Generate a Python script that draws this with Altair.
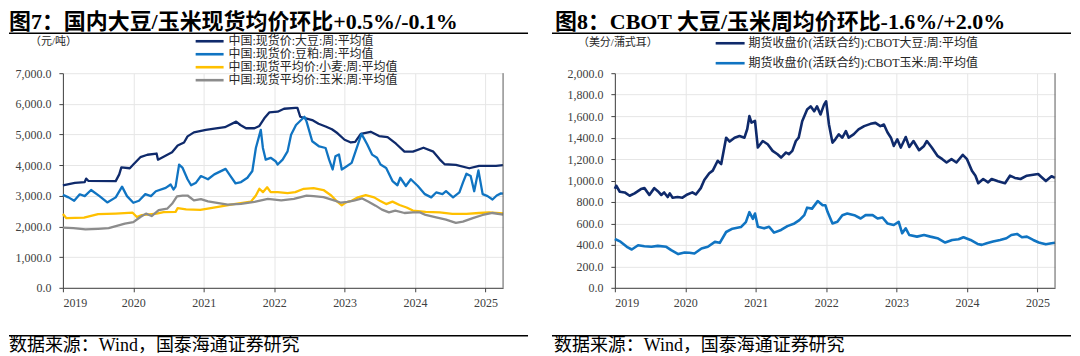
import altair as alt
import pandas as pd

# ---------------- data (decimal year, value) ----------------
cn_soybean = [(2019.00, 3345), (2019.17, 3420), (2019.31, 3450), (2019.33, 3560), (2019.36, 3490),
              (2019.75, 3480), (2019.80, 3700), (2019.83, 3930), (2019.95, 3900), (2020.00, 4020),
              (2020.10, 4260), (2020.20, 4340), (2020.33, 4380), (2020.35, 4180), (2020.45, 4300),
              (2020.55, 4420), (2020.63, 4640), (2020.72, 4740), (2020.77, 4940), (2020.86, 5070),
              (2021.03, 5150), (2021.15, 5190), (2021.30, 5240), (2021.46, 5420), (2021.52, 5310),
              (2021.60, 5205), (2021.72, 5205), (2021.79, 5280), (2021.86, 5530), (2021.93, 5720),
              (2022.05, 5745), (2022.14, 5840), (2022.30, 5870), (2022.33, 5870), (2022.37, 5580),
              (2022.45, 5530), (2022.54, 5470), (2022.63, 5350), (2022.73, 5260), (2022.82, 5170),
              (2022.90, 5040), (2023.00, 4830), (2023.09, 4740), (2023.15, 4760), (2023.23, 5020),
              (2023.37, 5090), (2023.49, 4950), (2023.61, 4915), (2023.73, 4700), (2023.85, 4440),
              (2023.97, 4440), (2024.12, 4570), (2024.26, 4440), (2024.35, 4190), (2024.42, 4030),
              (2024.58, 4010), (2024.77, 3900), (2024.91, 3980), (2025.15, 3980), (2025.25, 4000)]

cn_meal = [(2019.00, 3030), (2019.08, 2950), (2019.16, 2840), (2019.24, 3050), (2019.31, 2990),
           (2019.40, 3190), (2019.52, 2990), (2019.63, 2785), (2019.75, 2950), (2019.84, 3300),
           (2019.91, 2990), (2020.00, 2775), (2020.08, 2840), (2020.17, 3055), (2020.25, 2990),
           (2020.32, 3150), (2020.46, 3260), (2020.53, 3370), (2020.57, 3205), (2020.60, 3300),
           (2020.65, 4020), (2020.70, 3910), (2020.77, 3540), (2020.82, 3345), (2020.89, 3430),
           (2020.96, 3645), (2021.06, 3540), (2021.15, 3700), (2021.31, 3880), (2021.38, 3645),
           (2021.45, 3410), (2021.53, 3450), (2021.62, 3590), (2021.69, 3810), (2021.74, 4560),
           (2021.81, 5150), (2021.84, 4560), (2021.88, 4180), (2021.95, 4240), (2022.02, 4130),
           (2022.05, 4020), (2022.12, 4180), (2022.19, 4450), (2022.24, 4990), (2022.31, 5310),
           (2022.43, 5580), (2022.46, 5420), (2022.54, 4780), (2022.64, 4610), (2022.73, 4560),
           (2022.78, 4180), (2022.83, 3860), (2022.87, 4290), (2022.92, 4350), (2022.96, 3860),
           (2023.02, 3950), (2023.10, 4075), (2023.24, 5020), (2023.32, 4680), (2023.39, 4345),
           (2023.46, 4240), (2023.51, 4020), (2023.59, 3910), (2023.68, 3480), (2023.75, 3345),
           (2023.79, 3590), (2023.87, 3320), (2023.94, 3540), (2024.04, 3320), (2024.14, 3055),
           (2024.23, 2950), (2024.30, 3110), (2024.39, 3055), (2024.44, 3150), (2024.54, 2950),
           (2024.63, 3110), (2024.68, 3430), (2024.73, 3720), (2024.79, 3645), (2024.84, 3150),
           (2024.90, 3830), (2024.96, 3055), (2025.03, 2990), (2025.10, 2880), (2025.16, 3010),
           (2025.22, 3080), (2025.25, 3070)]

cn_wheat = [(2019.00, 2410), (2019.05, 2270), (2019.30, 2290), (2019.50, 2400), (2019.75, 2420),
            (2019.99, 2450), (2020.05, 2310), (2020.12, 2370), (2020.33, 2420), (2020.43, 2470),
            (2020.60, 2475), (2020.63, 2600), (2020.75, 2560), (2020.95, 2540), (2021.10, 2600),
            (2021.43, 2730), (2021.67, 2810), (2021.74, 3010), (2021.79, 3230), (2021.84, 3120),
            (2021.90, 3280), (2021.95, 3120), (2022.05, 3120), (2022.19, 3090), (2022.30, 3120),
            (2022.42, 3230), (2022.56, 3250), (2022.70, 3190), (2022.81, 3010), (2022.90, 2800),
            (2022.96, 2690), (2023.02, 2785), (2023.10, 2840), (2023.19, 2950), (2023.30, 3020),
            (2023.42, 2950), (2023.50, 2840), (2023.59, 2730), (2023.68, 2810), (2023.78, 2700),
            (2023.88, 2620), (2023.97, 2520), (2024.15, 2480), (2024.35, 2460), (2024.53, 2410),
            (2024.73, 2410), (2024.91, 2440), (2025.05, 2460), (2025.25, 2430)]

cn_corn = [(2019.00, 1960), (2019.15, 1945), (2019.32, 1905), (2019.50, 1925), (2019.65, 1945),
           (2019.88, 2090), (2020.00, 2140), (2020.10, 2310), (2020.18, 2420), (2020.26, 2340),
           (2020.36, 2530), (2020.48, 2580), (2020.55, 2740), (2020.62, 2980), (2020.70, 3010),
           (2020.77, 3010), (2020.86, 2850), (2020.96, 2890), (2021.06, 2820), (2021.34, 2710),
           (2021.53, 2740), (2021.72, 2800), (2021.91, 2900), (2022.10, 2850), (2022.28, 2900),
           (2022.46, 3010), (2022.56, 2990), (2022.70, 2960), (2022.85, 2850), (2022.95, 2775),
           (2023.04, 2800), (2023.13, 2840), (2023.25, 2915), (2023.34, 2810), (2023.44, 2680),
           (2023.53, 2550), (2023.63, 2460), (2023.72, 2520), (2023.85, 2440), (2023.97, 2460),
           (2024.07, 2460), (2024.15, 2375), (2024.30, 2300), (2024.44, 2225), (2024.58, 2120),
           (2024.68, 2160), (2024.82, 2270), (2024.96, 2375), (2025.10, 2440), (2025.25, 2390)]

cbot_soybean = [(2019.00, 923), (2019.02, 951), (2019.07, 895), (2019.14, 889), (2019.21, 858),
                (2019.28, 880), (2019.37, 920), (2019.42, 929), (2019.49, 865), (2019.56, 929),
                (2019.61, 900), (2019.66, 865), (2019.70, 889), (2019.75, 846), (2019.78, 880),
                (2019.82, 840), (2019.89, 846), (2019.96, 840), (2020.03, 870), (2020.10, 889),
                (2020.15, 870), (2020.22, 929), (2020.27, 1005), (2020.34, 1067), (2020.39, 1092),
                (2020.46, 1184), (2020.51, 1153), (2020.58, 1399), (2020.63, 1363), (2020.70, 1399),
                (2020.77, 1415), (2020.84, 1399), (2020.88, 1480), (2020.91, 1600), (2020.94, 1540),
                (2020.99, 1555), (2021.03, 1307), (2021.10, 1368), (2021.17, 1338), (2021.24, 1276),
                (2021.31, 1245), (2021.36, 1214), (2021.43, 1261), (2021.47, 1245), (2021.52, 1276),
                (2021.57, 1368), (2021.61, 1399), (2021.66, 1553), (2021.73, 1661), (2021.78, 1691),
                (2021.83, 1645), (2021.87, 1691), (2021.92, 1615), (2021.97, 1707), (2022.00, 1738),
                (2022.04, 1522), (2022.09, 1353), (2022.13, 1384), (2022.18, 1430), (2022.23, 1399),
                (2022.28, 1461), (2022.32, 1399), (2022.39, 1430), (2022.46, 1476), (2022.54, 1507),
                (2022.63, 1528), (2022.70, 1537), (2022.77, 1507), (2022.82, 1522), (2022.87, 1450),
                (2022.92, 1399), (2022.96, 1322), (2023.01, 1384), (2023.06, 1307), (2023.13, 1405),
                (2023.18, 1313), (2023.24, 1368), (2023.32, 1282), (2023.39, 1322), (2023.43, 1368),
                (2023.50, 1307), (2023.58, 1230), (2023.65, 1199), (2023.71, 1168), (2023.78, 1199),
                (2023.85, 1168), (2023.94, 1239), (2024.00, 1199), (2024.07, 1091), (2024.12, 1045),
                (2024.16, 975), (2024.23, 1014), (2024.30, 983), (2024.35, 1014), (2024.44, 993),
                (2024.54, 975), (2024.61, 1045), (2024.68, 1024), (2024.76, 1014), (2024.85, 1045),
                (2024.94, 1054), (2025.01, 1060), (2025.06, 1030), (2025.12, 995), (2025.20, 1040),
                (2025.25, 1025)]

cbot_corn = [(2019.00, 455), (2019.08, 430), (2019.17, 382), (2019.24, 357), (2019.33, 397),
             (2019.42, 388), (2019.52, 382), (2019.61, 391), (2019.73, 382), (2019.80, 351),
             (2019.90, 314), (2019.99, 329), (2020.06, 326), (2020.13, 320), (2020.23, 366),
             (2020.32, 382), (2020.42, 428), (2020.49, 419), (2020.58, 520), (2020.67, 551),
             (2020.79, 566), (2020.86, 612), (2020.91, 705), (2020.96, 643), (2020.99, 692),
             (2021.03, 569), (2021.12, 554), (2021.19, 569), (2021.26, 514), (2021.36, 539),
             (2021.45, 575), (2021.55, 600), (2021.62, 631), (2021.69, 677), (2021.73, 747),
             (2021.80, 738), (2021.88, 808), (2021.95, 769), (2021.99, 769), (2022.02, 708),
             (2022.09, 600), (2022.16, 615), (2022.23, 677), (2022.30, 692), (2022.40, 677),
             (2022.49, 646), (2022.56, 677), (2022.66, 677), (2022.73, 646), (2022.80, 655),
             (2022.87, 600), (2022.96, 585), (2023.03, 615), (2023.08, 508), (2023.13, 554),
             (2023.18, 492), (2023.29, 477), (2023.39, 492), (2023.48, 477), (2023.58, 462),
             (2023.69, 422), (2023.79, 446), (2023.88, 452), (2023.95, 471), (2024.05, 446),
             (2024.15, 409), (2024.21, 400), (2024.28, 415), (2024.37, 431), (2024.47, 446),
             (2024.56, 462), (2024.63, 492), (2024.71, 502), (2024.78, 471), (2024.85, 477),
             (2024.94, 446), (2025.02, 422), (2025.06, 415), (2025.12, 405), (2025.20, 415),
             (2025.25, 420)]

left_labels = ["中国:现货价:大豆:周:平均值", "中国:现货价:豆粕:周:平均值",
               "中国:现货平均价:小麦:周:平均值", "中国:现货平均价:玉米:周:平均值"]
left_colors = ["#0f2a6b", "#1074c2", "#ffc000", "#8c8c8c"]
right_labels = ["期货收盘价(活跃合约):CBOT大豆:周:平均值", "期货收盘价(活跃合约):CBOT玉米:周:平均值"]
right_colors = ["#0f2a6b", "#1074c2"]

years = [2019, 2020, 2021, 2022, 2023, 2024, 2025]
left_yticks = [0, 1000, 2000, 3000, 4000, 5000, 6000, 7000]
right_yticks = [0, 200, 400, 600, 800, 1000, 1200, 1400, 1600, 1800, 2000]

left_title = "图7：国内大豆/玉米现货均价环比+0.5%/-0.1%"
right_title = "图8：CBOT 大豆/玉米周均价环比-1.6%/+2.0%"
left_unit = "（元/吨）"
right_unit = "（美分/蒲式耳）"
source = "数据来源：Wind，国泰海通证券研究"

SERIF = "Liberation Serif, Noto Sans CJK SC"
W, H = 441, 215


def long_df(series_list, labels):
    rows = []
    for lab, ser in zip(labels, series_list):
        for t, v in ser:
            rows.append({"t": t, "v": v, "s": lab})
    return pd.DataFrame(rows)


one = pd.DataFrame({"k": [0]})


def txt(text, x, y, size, bold=False, color="#000000", baseline="top"):
    return alt.Chart(one).mark_text(
        align="left", baseline=baseline, font=SERIF, fontSize=size,
        fontWeight="bold" if bold else "normal", color=color
    ).encode(x=alt.value(x), y=alt.value(y), text=alt.value(text))


def hrule(x0, x1, y, color="#000000", width=1.2, opacity=1.0):
    return alt.Chart(one).mark_rule(color=color, strokeWidth=width, opacity=opacity).encode(
        x=alt.value(x0), x2=alt.value(x1), y=alt.value(y))


def panel(df, labels, colors, ydom, yticks, title, unit, lw,
          xmin, xmax, title_x, foot_x, unit_x, unit_y,
          leg_x0, leg_x1, leg_gap, leg_y0, leg_dy):
    lines = alt.Chart(df).mark_line(strokeWidth=lw, strokeJoin="round").encode(
        x=alt.X("t:Q", scale=alt.Scale(domain=[2019, 2025.25], nice=False, zero=False),
                axis=alt.Axis(values=years, format="d", title=None, labelPadding=6,
                              grid=True)),
        y=alt.Y("v:Q", scale=alt.Scale(domain=ydom, nice=False),
                axis=alt.Axis(values=yticks, format=",.1f", title=None, labelPadding=8,
                              grid=True)),
        color=alt.Color("s:N", scale=alt.Scale(domain=labels, range=colors), legend=None),
    )
    border = alt.Chart(one).mark_rule(color="#595959", strokeWidth=1).encode(
        x=alt.value(W), y=alt.value(0), y2=alt.value(H))
    layers = [lines, border,
              hrule(xmin, xmax, -65, opacity=0.0),
              txt(title, title_x, -44, 22, bold=True, baseline="alphabetic"),
              hrule(xmin, xmax, -40, width=1.5),
              txt(unit, unit_x, unit_y, 11, color="#262626", baseline="middle"),
              hrule(xmin, xmax, 263, width=1.5),
              txt(source, foot_x, 278, 18, baseline="alphabetic")]
    for i, (lab, col) in enumerate(zip(labels, colors)):
        yy = leg_y0 + i * leg_dy
        layers.append(hrule(leg_x0, leg_x1, yy, color=col, width=2.6))
        layers.append(txt(lab, leg_x1 + leg_gap, yy, 12, color="#262626", baseline="middle"))
    return alt.layer(*layers).properties(width=W, height=H)


left = panel(long_df([cn_soybean, cn_meal, cn_wheat, cn_corn], left_labels), left_labels,
             left_colors, [0, 7000], left_yticks, left_title, left_unit, 2.3,
             xmin=-54, xmax=466, title_x=-54, foot_x=-54, unit_x=-33, unit_y=-31,
             leg_x0=133, leg_x1=161, leg_gap=5, leg_y0=-32, leg_dy=13)

right = panel(long_df([cbot_soybean, cbot_corn], right_labels), right_labels,
              right_colors, [0, 2000], right_yticks, right_title, right_unit, 2.6,
              xmin=-63, xmax=457, title_x=-60, foot_x=-61, unit_x=-37, unit_y=-30,
              leg_x0=101, leg_x1=130, leg_gap=4, leg_y0=-30, leg_dy=20)

chart = alt.hconcat(left, right, spacing=22).properties(padding=0).configure_view(
    strokeWidth=0
).configure_axis(
    labelFont="Liberation Serif", labelFontSize=12, labelColor="#404040",
    domainColor="#404040", tickColor="#404040", tickSize=4, domainWidth=1,
    gridColor="#e6e6e6", gridWidth=1
)

chart.save("out.html", embed_options={"renderer": "svg", "actions": False})
